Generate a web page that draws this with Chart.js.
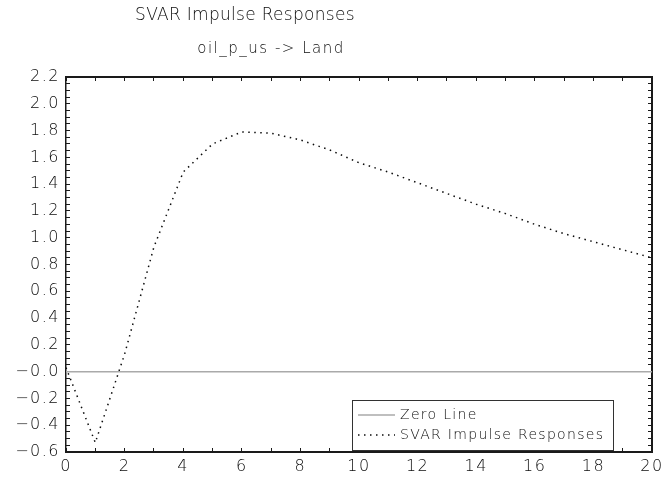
<!DOCTYPE html>
<html>
<head>
<meta charset="utf-8">
<script src="https://cdn.jsdelivr.net/npm/chart.js@4"></script>
<style>
  body { margin: 0; background: #fff; }
  canvas { display: block; }
</style>
</head>
<body>
<canvas id="irf" width="664" height="483"></canvas>
<script>
var chartTitle = "SVAR Impulse Responses";
var chartSubtitle = "oil_p_us -> Land";
var horizons = [0, 1, 2, 3, 4, 5, 6, 7, 8, 9, 10, 11, 12, 13, 14, 15, 16, 17, 18, 19, 20];
var zeroLine = [0, 0, 0, 0, 0, 0, 0, 0, 0, 0, 0, 0, 0, 0, 0, 0, 0, 0, 0, 0, 0];
var svarResponse = [0.03, -0.53, 0.13, 0.93, 1.49, 1.70, 1.79, 1.78, 1.73, 1.655, 1.56,
                    1.49, 1.41, 1.33, 1.25, 1.18, 1.10, 1.03, 0.97, 0.91, 0.85];
var legendNames = ["Zero Line", "SVAR Impulse Responses"];

var FONT = "'DejaVu Sans', 'Liberation Sans', sans-serif";
var INK = "rgb(12,12,12)";
var FRAME = "#1a1a1a";

function pts(vals) {
    return vals.map(function (v, i) { return { x: horizons[i], y: v }; });
}

// every axis draws its border and short inward ticks (negative tickLength)
function frameGrid() {
    return { display: true, drawOnChartArea: false, drawTicks: true, tickLength: -4, color: FRAME, lineWidth: 1 };
}

function yLabel(v) {
    var n = Math.round(v * 100);
    if (n % 20 !== 0) return "";
    var s = Math.abs(n / 100).toFixed(1);
    return n <= 0 ? "\u2212" + s : s;
}

function xLabel(v) {
    return v % 2 === 0 ? String(v) : "";
}

var page = {
    id: "irfPage",
    beforeDraw: function (chart) {
        var c = chart.ctx;
        c.save();
        c.fillStyle = "#fff";
        c.fillRect(0, 0, chart.width, chart.height);
        c.restore();
        c.letterSpacing = "1.5px";
    },
    afterDraw: function (chart) {
        var c = chart.ctx;
        c.save();
        c.fillStyle = INK;
        c.textAlign = "center";
        c.textBaseline = "middle";
        c.letterSpacing = "0.3px";
        c.font = "200 17px " + FONT;
        c.fillText(chartTitle, 245, 16);
        c.letterSpacing = "1.5px";
        c.font = "200 15px " + FONT;
        c.fillText(chartSubtitle, 271, 49);

        // legend box
        var lx = 352, ly = 400, lw = 261, lh = 50;
        c.fillStyle = "#fff";
        c.fillRect(lx, ly, lw, lh);
        c.strokeStyle = "rgb(50,50,50)";
        c.lineWidth = 1;
        c.strokeRect(lx + 0.5, ly + 0.5, lw, lh);
        c.font = "200 14px " + FONT;
        c.letterSpacing = "1.3px";
        c.textAlign = "left";
        chart.data.datasets.forEach(function (ds, i) {
            var yy = ly + 15 + i * 20;
            c.save();
            c.strokeStyle = ds.borderColor;
            c.lineWidth = ds.borderWidth;
            c.setLineDash(ds.borderDash || []);
            c.beginPath();
            c.moveTo(lx + 6, yy); c.lineTo(lx + 43, yy);
            c.stroke();
            c.restore();
            c.fillStyle = INK;
            c.fillText(legendNames[i], lx + 48, yy);
        });
        c.restore();
    }
};

var chart = new Chart(document.getElementById("irf").getContext("2d"), {
    type: "line",
    data: {
        datasets: [
            {
                label: legendNames[0],
                data: pts(zeroLine),
                borderColor: "#aaaaaa",
                borderWidth: 1.5,
                pointRadius: 0,
                tension: 0
            },
            {
                label: legendNames[1],
                data: pts(svarResponse),
                borderColor: INK,
                borderWidth: 1.5,
                borderDash: [1.5, 4.5],
                pointRadius: 0,
                tension: 0
            }
        ]
    },
    options: {
        responsive: false,
        animation: false,
        layout: { padding: 0 },
        plugins: {
            legend: { display: false },
            tooltip: { enabled: false }
        },
        scales: {
            x: {
                type: "linear",
                position: "bottom",
                min: 0,
                max: 20,
                grid: frameGrid(),
                border: { display: true, color: FRAME, width: 2 },
                ticks: {
                    stepSize: 1,
                    autoSkip: false,
                    padding: 9,
                    color: INK,
                    maxRotation: 0,
                    font: { family: FONT, size: 16, weight: 200 },
                    callback: xLabel
                },
                afterFit: function (scale) {
                    scale.height = 31;
                    scale.paddingLeft = 0;
                    scale.paddingRight = 0;
                }
            },
            xTop: {
                type: "linear",
                position: "top",
                min: 0,
                max: 20,
                grid: frameGrid(),
                border: { display: true, color: FRAME, width: 2 },
                ticks: { stepSize: 1, autoSkip: false, display: false },
                afterFit: function (scale) {
                    scale.height = 77;
                    scale.paddingLeft = 0;
                    scale.paddingRight = 0;
                }
            },
            y: {
                position: "left",
                min: -0.6,
                max: 2.2,
                grid: frameGrid(),
                border: { display: true, color: FRAME, width: 1.5 },
                ticks: {
                    stepSize: 0.05,
                    autoSkip: false,
                    padding: 10,
                    color: INK,
                    font: { family: FONT, size: 16, weight: 200 },
                    callback: yLabel
                },
                afterFit: function (scale) {
                    scale.width = 66;
                    scale.paddingTop = 0;
                    scale.paddingBottom = 0;
                }
            },
            yRight: {
                position: "right",
                min: -0.6,
                max: 2.2,
                grid: frameGrid(),
                border: { display: true, color: FRAME, width: 2 },
                ticks: { stepSize: 0.05, autoSkip: false, display: false },
                afterFit: function (scale) {
                    scale.width = 12;
                    scale.paddingTop = 0;
                    scale.paddingBottom = 0;
                }
            }
        }
    },
    plugins: [page]
});
</script>
</body>
</html>
